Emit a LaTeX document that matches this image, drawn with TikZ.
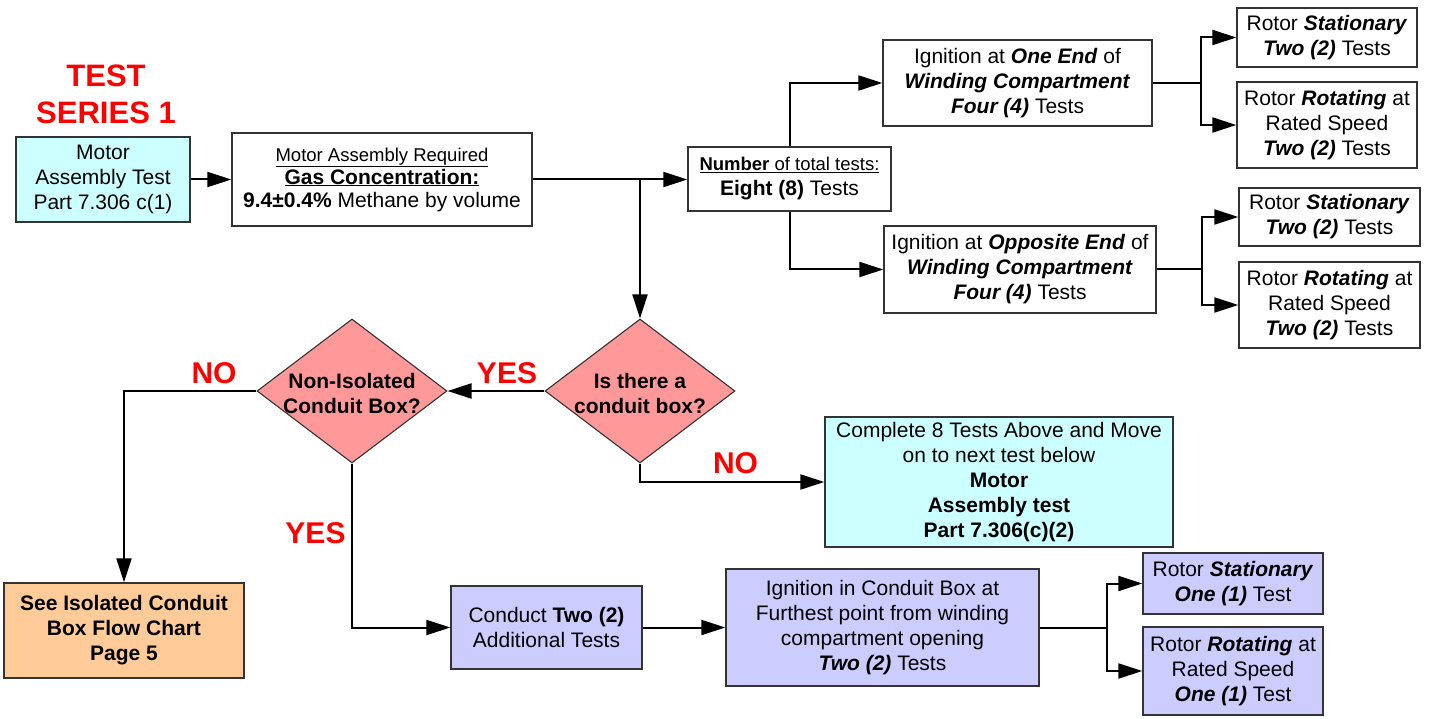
\documentclass[tikz,border=0pt]{standalone}
\usepackage{fontspec}
\setmainfont{Liberation Sans}
\usetikzlibrary{arrows.meta,shapes.geometric}
\definecolor{cyanbox}{HTML}{CCFFFF}
\definecolor{redbox}{HTML}{FF9999}
\definecolor{orangebox}{HTML}{FFCC99}
\definecolor{lavbox}{HTML}{CCCCFF}
\definecolor{edge}{HTML}{333333}
\newcommand{\bi}[1]{\textbf{\textit{#1}}}
\begin{document}
\begin{tikzpicture}[x=1pt,y=-1pt,
  box/.style n args={2}{draw=edge, line width=1.3pt, align=center, inner sep=0pt,
     font=\fontsize{21}{25}\selectfont, minimum width=#1pt, minimum height=#2pt},
  dia/.style={draw=edge, line width=1.1pt, diamond, fill=redbox, inner sep=0pt,
     minimum width=190pt, minimum height=144pt},
  dtext/.style={align=center, font=\fontsize{21}{25}\selectfont\bfseries},
  conn/.style={line width=2pt, -{Triangle[length=24pt,width=15pt]}},
  plain/.style={line width=2pt},
  lbl/.style={text=red, font=\fontsize{30}{30}\selectfont\bfseries, anchor=base},
  ttl/.style={text=red, font=\fontsize{31}{31}\selectfont\bfseries, anchor=base}]
\useasboundingbox (0,0) rectangle (1429,719);

% title
\node[ttl] (t1) at (106,87) {TEST};
\node[ttl] (t2) at (106,124) {SERIES 1};

% top row
\node[box={174}{85}, fill=cyanbox] (A) at (103,179.5) {Motor\\Assembly Test\\Part 7.306 c(1)};
\node[box={300}{93}, fill=white, font=\fontsize{21}{23}\selectfont] (B) at (382,179.5)
  {{\fontsize{18.5}{23}\selectfont\underline{Motor Assembly Required}}\\
   \textbf{\underline{Gas Concentration:}}\\
   \textbf{9.4±0.4\%} Methane by volume};
\node[box={203}{64}, fill=white] (C) at (789.5,179)
  {{\fontsize{18.5}{23}\selectfont\underline{\textbf{Number} of total tests:}}\\
   \textbf{Eight (8)} Tests};

\node[box={269}{86}, fill=white] (E1) at (1017.5,83)
  {Ignition at \bi{One End} of\\\bi{Winding Compartment}\\\bi{Four (4)} Tests};
\node[box={180}{59}, fill=white] (F1) at (1327,37.5) {Rotor \bi{Stationary}\\\bi{Two (2)} Tests};
\node[box={180}{86}, fill=white] (F2) at (1327,125) {Rotor \bi{Rotating} at\\Rated Speed\\\bi{Two (2)} Tests};

\node[box={272}{87}, fill=white] (E2) at (1020,269.5)
  {Ignition at \bi{Opposite End} of\\\bi{Winding Compartment}\\\bi{Four (4)} Tests};
\node[box={181}{58}, fill=white] (F3) at (1329.5,217) {Rotor \bi{Stationary}\\\bi{Two (2)} Tests};
\node[box={181}{86}, fill=white] (F4) at (1329.5,305) {Rotor \bi{Rotating} at\\Rated Speed\\\bi{Two (2)} Tests};

% decisions
\node[dia] (D1) at (640,391) {};
\node[dtext] (D1t) at (640,393) {Is there a\\conduit box?};
\node[dia] (D2) at (352,391) {};
\node[dtext] (D2t) at (352,393) {Non-Isolated\\Conduit Box?};

\node[box={348}{130}, fill=cyanbox] (G) at (999,482)
  {Complete 8 Tests Above and Move\\on to next test below\\\textbf{Motor}\\\textbf{Assembly test}\\\textbf{Part 7.306(c)(2)}};

% bottom row
\node[box={240}{95}, fill=orangebox, font=\fontsize{21}{25}\selectfont\bfseries] (H) at (124,630.5)
  {See Isolated Conduit\\Box Flow Chart\\Page 5};
\node[box={191}{83}, fill=lavbox] (I) at (546.5,627.5) {Conduct \textbf{Two (2)}\\Additional Tests};
\node[box={313}{117}, fill=lavbox] (J) at (882.5,627.5)
  {Ignition in Conduit Box at\\Furthest point from winding\\compartment opening\\\bi{Two (2)} Tests};
\node[box={180}{61}, fill=lavbox] (K1) at (1233,583.5) {Rotor \bi{Stationary}\\\bi{One (1)} Test};
\node[box={180}{88}, fill=lavbox] (K2) at (1233,671) {Rotor \bi{Rotating} at\\Rated Speed\\\bi{One (1)} Test};

% connectors
\draw[conn] (A) -- (B);
\draw[conn] (B.east) -- (B.east -| C.west);
\draw[conn] (B.east -| D1.north) -- (D1.north);
\draw[conn] (C.north) |- (E1.west);
\draw[conn] (C.south) |- (E2.west);
\draw[plain] (E1.east) -- ++(48,0) coordinate (s1);
\draw[conn] (s1) |- (F1.west);
\draw[conn] (s1) |- (F2.west);
\draw[plain] (E2.east) -- ++(45,0) coordinate (s2);
\draw[conn] (s2) |- (F3.west);
\draw[conn] (s2) |- (F4.west);
\draw[conn] (D1.west) -- (D2.east);
\draw[conn] (D2.west) -| (H.north);
\draw[conn] (D2.south) |- (I.west);
\draw[conn] (D1.south) |- (G.west);
\draw[conn] (I.east) -- (J.west);
\draw[plain] (J.east) -- ++(67,0) coordinate (s3);
\draw[conn] (s3) |- (K1.west);
\draw[conn] (s3) |- (K2.west);

% labels
\node[lbl] (yes1) at (507,383) {YES};
\node[lbl] (no1) at (214,383) {NO};
\node[lbl] (yes2) at (315.5,543) {YES};
\node[lbl] (no2) at (735.5,473) {NO};
\end{tikzpicture}
\end{document}
